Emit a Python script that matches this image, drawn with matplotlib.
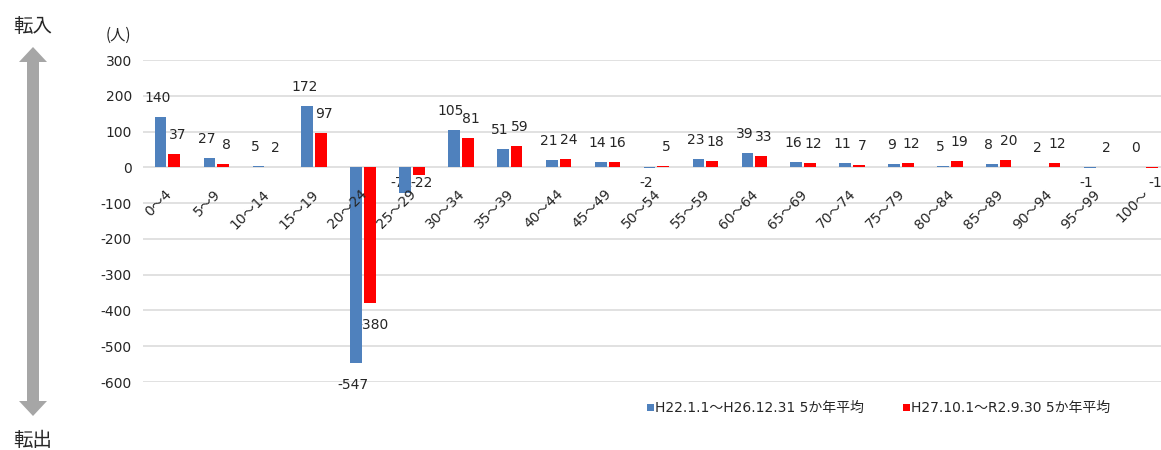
"""
Net migration by age group (5-year averages), two periods
"""
import matplotlib
matplotlib.use('Agg')
import matplotlib.pyplot as plt
import matplotlib.patches as mpatches
import numpy as np

plt.rcParams['font.family'] = ['DejaVu Sans', 'Noto Sans CJK JP']
plt.rcParams['axes.unicode_minus'] = False

AGE_GROUPS = ['0～4', '5～9', '10～14', '15～19', '20～24', '25～29', '30～34',
              '35～39', '40～44', '45～49', '50～54', '55～59', '60～64', '65～69',
              '70～74', '75～79', '80～84', '85～89', '90～94', '95～99', '100～']
H22_H26 = [140, 27, 5, 172, -547, -71, 105, 51, 21, 14, -2, 23, 39, 16, 11, 9, 5, 8, 2, -1, 0]
H27_R2 = [37, 8, 2, 97, -380, -22, 81, 59, 24, 16, 5, 18, 33, 12, 7, 12, 19, 20, 12, 2, -1]
SERIES_LABELS = ['H22.1.1～H26.12.31 5か年平均', 'H27.10.1～R2.9.30 5か年平均']
COLORS = ['#4F81BD', '#FF0000']
Y_TICKS = list(range(-600, 301, 100))

TEXT_COLOR = '#262626'
W, H = 1161, 450

fig = plt.figure(figsize=(W / 100, H / 100), dpi=100)
ax = fig.add_axes([143 / W, 1 - 382 / H, 1018 / W, 322 / H])

x = np.arange(len(AGE_GROUPS))
bar_w = 0.24
shift = 0.14

for vals, c, sign in zip([H22_H26, H27_R2], COLORS, [-1, 1]):
    xs = x + sign * shift
    ax.bar(xs, vals, bar_w, color=c, zorder=2)
    for xi, v in zip(xs, vals):
        # labels outside the bar end, pushed a little apart sideways
        dx = 3 * sign
        if v >= 0:
            ax.annotate(str(v), (xi, v), xytext=(dx, 19), textcoords='offset pixels',
                        ha='center', va='center', fontsize=10, color=TEXT_COLOR, zorder=1)
        elif v > -100:
            # short negative bars: label sits just under the axis
            ax.annotate(str(v), (xi, 0), xytext=(dx, -16), textcoords='offset pixels',
                        ha='center', va='center', fontsize=10, color=TEXT_COLOR, zorder=1)
        else:
            ax.annotate(str(v), (xi, v), xytext=(dx, -22), textcoords='offset pixels',
                        ha='center', va='center', fontsize=10, color=TEXT_COLOR, zorder=1)

# category labels sit just under the zero line
for i, lab in enumerate(AGE_GROUPS):
    ax.text(i - 0.06, -55, lab, rotation=45, rotation_mode='anchor',
            ha='right', va='top', fontsize=10, color=TEXT_COLOR)

ax.set_xlim(-0.5, -0.5 + 1018 / 48.9)
ax.set_ylim(-600, 300)
ax.set_yticks(Y_TICKS)
ax.set_xticks([])
ax.grid(axis='y', color='#D9D9D9', linewidth=1.1)
ax.set_axisbelow(True)
for s in ax.spines.values():
    s.set_visible(False)
ax.tick_params(axis='y', length=0, pad=8, labelsize=10, labelcolor=TEXT_COLOR)

# overlay in pixel coordinates for arrow, unit and legend
ov = fig.add_axes([0, 0, 1, 1], facecolor='none')
ov.set_xlim(0, W)
ov.set_ylim(H, 0)
ov.axis('off')

cx = 33
arrow = mpatches.Polygon([(cx, 47), (cx + 14, 62), (cx + 6, 62), (cx + 6, 401),
                          (cx + 14, 401), (cx, 416), (cx - 14, 401), (cx - 6, 401),
                          (cx - 6, 62), (cx - 14, 62)], closed=True,
                         facecolor='#A6A6A6', edgecolor='none')
ov.add_patch(arrow)
ov.text(cx, 26, '転入', ha='center', va='center', fontsize=14, color=TEXT_COLOR,
        family='Noto Sans CJK JP')
ov.text(cx, 440, '転出', ha='center', va='center', fontsize=14, color=TEXT_COLOR,
        family='Noto Sans CJK JP')
ov.text(118, 35, '(人)', ha='center', va='center', fontsize=11, color=TEXT_COLOR,
        family='Noto Sans CJK JP')

for lx, lab, c in zip([647, 903], SERIES_LABELS, COLORS):
    ov.add_patch(mpatches.Rectangle((lx, 404), 7, 7, facecolor=c, edgecolor='none'))
    ov.text(lx + 8, 407.5, lab, ha='left', va='center', fontsize=10, color=TEXT_COLOR)

fig.savefig('out.png', dpi=100)
